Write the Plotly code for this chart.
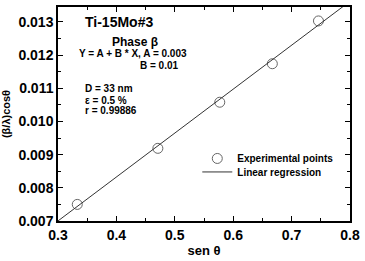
import plotly.graph_objects as go

sen_theta = [0.333, 0.471, 0.577, 0.667, 0.746]
beta_cos = [0.00750, 0.00919, 0.01058, 0.01174, 0.01303]
fit_A = 0.00303
fit_B = 0.01324
fit_x = [0.3, 0.8]
x_ticks = [0.3, 0.4, 0.5, 0.6, 0.7, 0.8]
x_ticklabels = ["0.3", "0.4", "0.5", "0.6", "0.7", "0.8"]
y_ticks = [0.007, 0.008, 0.009, 0.010, 0.011, 0.012, 0.013]
y_ticklabels = ["0.007", "0.008", "0.009", "0.010", "0.011", "0.012", "0.013"]

FONT = "Liberation Sans, Arial, sans-serif"

fig = go.Figure()
fig.add_trace(go.Scatter(
    x=sen_theta, y=beta_cos, mode="markers", name="<b>Experimental points</b>",
    marker=dict(symbol="circle-open", size=10, color="#666666", line=dict(width=1)),
    legend="legend"))
fit_y = [fit_A + fit_B * v for v in fit_x]
fig.add_trace(go.Scatter(
    x=fit_x, y=fit_y, mode="lines", name="<b>Linear regression</b>",
    line=dict(color="#333333", width=1), legend="legend2"))

axis_common = dict(
    showline=True, linecolor="black", linewidth=1.5, mirror="ticks",
    ticks="inside", ticklen=5, tickwidth=1.2, tickcolor="black",
    showgrid=False, zeroline=False, ticklabeloverflow="allow",
    tickfont=dict(family=FONT, size=14, color="black", weight="bold"),
)

fig.update_xaxes(range=[0.3, 0.8], tickvals=x_ticks, ticktext=x_ticklabels,
                 minor=dict(ticks="inside", ticklen=3, dtick=0.05, tick0=0.3, tickcolor="black"),
                 title=dict(text="<b>sen θ</b>", font=dict(family=FONT, size=13, color="black"), standoff=4),
                 **axis_common)
fig.update_yaxes(range=[0.007, 0.01345], tickvals=y_ticks, ticktext=y_ticklabels,
                 minor=dict(ticks="inside", ticklen=3, dtick=0.0005, tick0=0.007, tickcolor="black"),
                 title=dict(text="<b>(β/λ)cosθ</b>", font=dict(family=FONT, size=11, color="black"), standoff=6),
                 **axis_common)

ann_font = dict(family=FONT, size=10, color="black")
anns = [
    dict(x=0.342, y=0.01300, text="<b>Ti-15Mo#3</b>", xanchor="left", font=dict(family=FONT, size=14, color="black")),
    dict(x=0.3886, y=0.01239, text="<b>Phase β</b>", xanchor="left", font=dict(family=FONT, size=12, color="black")),
    dict(x=0.3318, y=0.01204, text="<b>Y = A + B * X, A = 0.003</b>", xanchor="left", font=ann_font),
    dict(x=0.5107, y=0.01169, text="<b>B = 0.01</b>", xanchor="right", font=ann_font),
    dict(x=0.3435, y=0.01099, text="<b>D = 33 nm</b>", xanchor="left", font=ann_font),
    dict(x=0.3435, y=0.01064, text="<b>ε = 0.5 %</b>", xanchor="left", font=ann_font),
    dict(x=0.3435, y=0.01032, text="<b>r = 0.99886</b>", xanchor="left", font=ann_font),
]
for a in anns:
    fig.add_annotation(xref="x", yref="y", showarrow=False, yanchor="middle", **a)

leg_common = dict(xanchor="left", yanchor="top", bgcolor="rgba(0,0,0,0)",
                  font=dict(family=FONT, size=10, color="black"), itemwidth=30)
fig.update_layout(
    width=365, height=261,
    margin=dict(l=57, r=9, t=5, b=34),
    paper_bgcolor="white", plot_bgcolor="white",
    showlegend=True,
    legend=dict(x=0.477, y=0.36, **leg_common),
    legend2=dict(x=0.477, y=0.297, **leg_common),
)

fig.write_html("out.html")
